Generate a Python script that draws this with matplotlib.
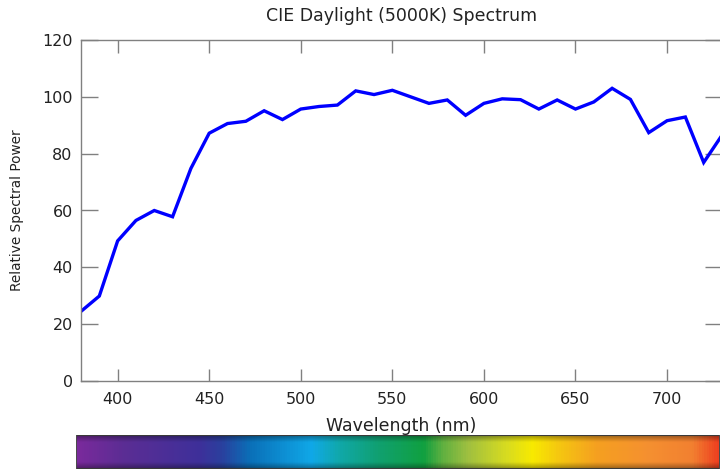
"""
CIE Daylight D50 (5000K): potencia espectral relativa, con barra de espectro visible abajo.
"""
import numpy as np
import matplotlib
matplotlib.use("Agg")
import matplotlib.pyplot as plt
from matplotlib.colors import LinearSegmentedColormap, to_rgb

# --- Datos (cada 10 nm) ---
wavelength_nm = [380, 390, 400, 410, 420, 430, 440, 450, 460, 470,
                 480, 490, 500, 510, 520, 530, 540, 550, 560, 570,
                 580, 590, 600, 610, 620, 630, 640, 650, 660, 670,
                 680, 690, 700, 710, 720, 730]
relative_power = [24.5, 29.9, 49.3, 56.5, 60.0, 57.8, 74.8, 87.2, 90.6, 91.4,
                  95.1, 92.0, 95.7, 96.6, 97.1, 102.1, 100.8, 102.3, 100.0, 97.7,
                  98.9, 93.5, 97.7, 99.3, 99.0, 95.7, 98.9, 95.7, 98.2, 103.0,
                  99.1, 87.4, 91.6, 92.9, 76.9, 86.5]

x_ticks = [400, 450, 500, 550, 600, 650, 700]
y_ticks = [0, 20, 40, 60, 80, 100, 120]

# colores de la barra del espectro (de izquierda a derecha)
spectrum_pos = [0.0, 0.07, 0.19, 0.225, 0.27, 0.365, 0.41, 0.47, 0.54, 0.57,
                0.61, 0.67, 0.71, 0.75, 0.81, 0.89, 0.96, 1.0]
spectrum_colors = ["#7a2a9c", "#5c2d94", "#3e309a", "#2a409e", "#0a70b8", "#10a8e8",
                   "#10a8a8", "#10a070", "#10a040", "#60b040", "#a0c040", "#d8dc20",
                   "#f8ea00", "#f5c810", "#f5a020", "#f59030", "#f28030", "#ee4020"]

fig = plt.figure(figsize=(7.2, 4.69), dpi=100)
ax = fig.add_axes([81 / 720, 1 - 381 / 469, 641 / 720, 341 / 469])

ax.plot(wavelength_nm, relative_power, color="#0000ff", lw=2.4, solid_joinstyle="miter")
ax.set_xlim(380, 730)
ax.set_ylim(0, 120)
ax.set_xticks(x_ticks)
ax.set_yticks(y_ticks)

for s in ax.spines.values():
    s.set_color("#808080")
    s.set_linewidth(1.0)
ax.tick_params(axis="both", direction="in", colors="#808080", labelcolor="#222222",
               labelsize=11.5, top=True, right=True, width=1.0)
ax.tick_params(axis="x", length=9, pad=8)
ax.tick_params(axis="y", length=12, pad=6)

ax.set_title("CIE Daylight (5000K) Spectrum", fontsize=12.5, color="#222222", pad=14)
ax.set_xlabel("Wavelength (nm)", fontsize=12.5, color="#222222", labelpad=7)
ax.set_ylabel("Relative Spectral Power", fontsize=9.8, color="#222222", labelpad=13)

# --- Barra del espectro ---
cmap = LinearSegmentedColormap.from_list(
    "spectrum", list(zip(spectrum_pos, spectrum_colors)))
cols = cmap(np.linspace(0, 1, 644))[:, :3]
rows = np.linspace(0, 1, 33)
shade = 1 - 0.35 * np.clip(np.abs(rows - 0.5) * 2 - 0.6, 0, 1) / 0.4
img = cols[None, :, :] * shade[:, None, None]
border = np.array(to_rgb("#3a3a3a"))
img[0, :, :] = border
img[-1, :, :] = border
img[:, 0, :] = border * 1.3
img[:, -1, :] = border * 1.3

bar = fig.add_axes([76 / 720, 1 - 469 / 469, 644 / 720, 34 / 469])
bar.imshow(img, aspect="auto", interpolation="bilinear")
bar.set_axis_off()

fig.savefig("out.png", dpi=100)
